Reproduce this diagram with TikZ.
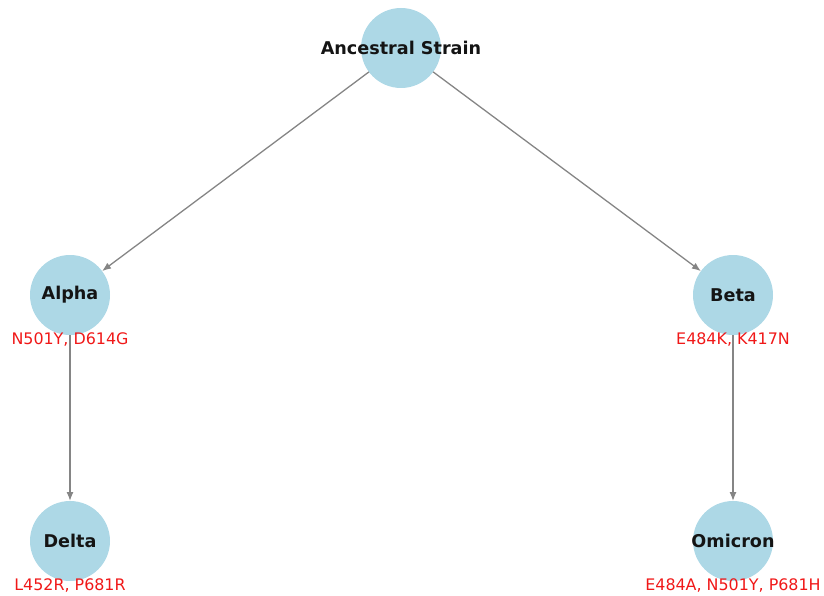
\documentclass[tikz,border=0pt]{standalone}
\usepackage{fontspec}
\setmainfont{DejaVu Sans}
\usetikzlibrary{arrows.meta}
\definecolor{nodefill}{HTML}{ADD8E6}
\definecolor{edgegray}{HTML}{858585}
\definecolor{mutred}{HTML}{F01818}
\definecolor{labelink}{HTML}{141414}
% centred text that does not widen its circle
\newcommand{\strainname}[1]{\makebox[0pt][c]{#1}}
\begin{document}
\begin{tikzpicture}[x=1pt,y=-1pt,
  strain/.style={circle,fill=nodefill,draw=none,minimum size=80pt,inner sep=0pt,outer sep=0pt,
    font=\fontsize{17.6}{19}\selectfont\bfseries,text=labelink},
  mutation/.style={font=\fontsize{15.9}{17}\selectfont,text=mutred,inner sep=0pt},
  edge/.style={draw=edgegray,line width=1.3pt,-{Latex[length=9pt,width=7pt]}}]
\useasboundingbox (0,0) rectangle (824,596);

% variant nodes
\node[strain] (anc) at (401,48) {\strainname{Ancestral Strain}};
\node[strain] (alpha) at (70,295) {\strainname{Alpha}};
\node[strain] (beta) at (733,295) {\strainname{Beta}};
\node[strain] (delta) at (70,541) {\strainname{Delta}};
\node[strain] (omicron) at (733,541) {\strainname{Omicron}};

% lineage edges
\draw[edge] (anc) -- (alpha);
\draw[edge] (anc) -- (beta);
\draw[edge] (alpha) -- (delta);
\draw[edge] (beta) -- (omicron);

% mutation labels
\node[mutation] (malpha) at (70,340) {N501Y, D614G};
\node[mutation] (mbeta) at (733,340) {E484K, K417N};
\node[mutation] (mdelta) at (70,586) {L452R, P681R};
\node[mutation] (momicron) at (733,586) {E484A, N501Y, P681H};
\end{tikzpicture}
\end{document}
